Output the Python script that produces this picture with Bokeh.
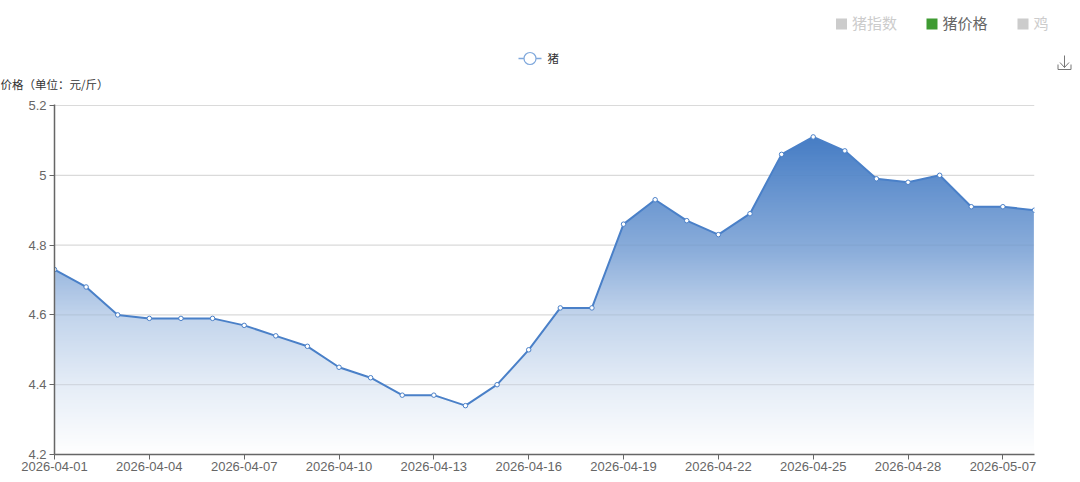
import numpy as np
from bokeh.embed import file_html
from bokeh.resources import INLINE
from bokeh.plotting import figure
from bokeh.layouts import column
from bokeh.core.properties import value
from bokeh.models import Range1d, FixedTicker

dates = ["2026-04-01","2026-04-02","2026-04-03","2026-04-04","2026-04-05","2026-04-06","2026-04-07","2026-04-08",
         "2026-04-09","2026-04-10","2026-04-11","2026-04-12","2026-04-13","2026-04-14","2026-04-15","2026-04-16",
         "2026-04-17","2026-04-18","2026-04-19","2026-04-20","2026-04-21","2026-04-22","2026-04-23","2026-04-24",
         "2026-04-25","2026-04-26","2026-04-27","2026-04-28","2026-04-29","2026-04-30","2026-05-07","2026-05-08"]
prices = [4.73,4.68,4.60,4.59,4.59,4.59,4.57,4.54,4.51,4.45,4.42,4.37,4.37,4.34,4.40,4.50,
          4.62,4.62,4.86,4.93,4.87,4.83,4.89,5.06,5.11,5.07,4.99,4.98,5.00,4.91,4.91,4.90]
y_ticks = [4.2,4.4,4.6,4.8,5.0,5.2]
y_labels = ["4.2","4.4","4.6","4.8","5","5.2"]
x_tick_step = 3
series_name = "猪"
y_title = "价格（单位：元/斤）"
top_legend = [("猪指数", "#cccccc", "#cccccc"), ("猪价格", "#3f9b32", "#666666"), ("鸡", "#cccccc", "#cccccc")]

LINE = "#4a80c8"
TOP = np.array([70, 125, 197])
STOP_T = [0, .36, .56, .78, 1]        # distance from the top of the gradient
STOP_A = [1, .62, .33, .14, 0]        # strength of the blue there
FONT = "Liberation Sans"
CJK = "Noto Sans CJK SC"
W, H = 1080, 482
HEAD = 95
L, R, T, B = 54, 46, 104 - HEAD, 28
PAD = 1.0 / 349                       # one pixel of headroom so the top grid line is not halved

idx = list(range(len(dates)))
ymin, ymax = y_ticks[0], y_ticks[-1]
top = max(prices)

def strength(v):
    return float(np.interp((top - v) / (top - ymin), STOP_T, STOP_A))

# ---------- header strip: y-axis title, legends, download icon ----------
h = figure(width=W, height=HEAD, output_backend="svg", toolbar_location=None,
           x_range=Range1d(0, W), y_range=Range1d(HEAD, 0),
           min_border=0, min_border_left=0, min_border_right=0, min_border_top=0, min_border_bottom=0)
h.frame_align = False
h.outline_line_color = None
h.axis.visible = False
h.grid.visible = False

def label(x, y, text, color, size):
    h.text([x], [y], text=[text], text_color=color, text_font=value(CJK), text_font_size=size,
           text_baseline="middle", text_align="left")

label(0, 83, y_title, "#333333", "11.5px")

h.line([518, 541], [58, 58], line_color="#7fa8dc", line_width=1.5)
h.scatter([529.5], [58], size=12, marker="circle", fill_color="white", line_color="#7fa8dc", line_width=1.2)
label(547, 57, series_name, "#333333", "11.5px")

for (name, c, tc), sx in zip(top_legend, [835.5, 926, 1017]):
    h.quad(left=[sx], right=[sx+11], top=[18], bottom=[29], fill_color=c, line_color=None)
    label(sx+16, 22, name, tc, "15px")

h.line([1057.5, 1057.5, 1070.5, 1070.5], [64, 69, 69, 64], line_color="#777777", line_width=1)
h.line([1064, 1064], [55, 67], line_color="#777777", line_width=1)
h.line([1059.5, 1064, 1068.5], [62, 67, 62], line_color="#777777", line_width=1)

# ---------- chart ----------
p = figure(width=W, height=H-HEAD, output_backend="svg", toolbar_location=None,
           x_range=Range1d(0, len(dates)-1), y_range=Range1d(ymin, ymax + PAD),
           min_border_left=L, min_border_right=R, min_border_top=T, min_border_bottom=B)
p.frame_align = False
p.outline_line_color = None
p.background_fill_color = "white"
p.xgrid.visible = False
p.ygrid.visible = False

# vertical gradient from the data's top down to the axis, then masked above the line
n = 256
vals = np.linspace(ymin, top, n)
frac = np.array([strength(v) for v in vals])[:, None]
rgb = 255 + (TOP - 255) * frac
img = np.zeros((n, 1), dtype=np.uint32)
view = img.view(dtype=np.uint8).reshape((n, 1, 4))
view[..., :3] = rgb[:, None, :].astype(np.uint8)
view[..., 3] = 255
p.image_rgba(image=[img], x=0.02, y=ymin, dw=len(dates)-1-0.04, dh=top-ymin, level="image")
mask_x = [-1] + idx + [len(idx)]
mask_y = [prices[0]] + prices + [prices[-1]]
p.varea(x=mask_x, y1=mask_y, y2=[ymax + PAD]*len(mask_x), fill_color="white", level="image")

# grid: plain outside the area, fading out under the gradient inside it
dense_x = np.linspace(0, len(dates)-1, 1961)
dense_y = np.interp(dense_x, idx, prices)
for t in y_ticks[1:]:
    p.line(dense_x, np.where(dense_y < t, t, np.nan), line_color="#dadada", line_width=1.2, level="underlay")
    p.line(dense_x, np.where(dense_y >= t, t, np.nan), line_color="black",
           line_alpha=0.10 * (1 - strength(t)), line_width=1.2, level="underlay")

p.line(idx, prices, line_color=LINE, line_width=2)
p.scatter(idx, prices, size=4.5, marker="circle", fill_color="white", line_color=LINE, line_width=1)

for ax in (p.xaxis[0], p.yaxis[0]):
    ax.axis_line_color = "#666666"
    ax.axis_line_width = 1.5
    ax.major_tick_line_color = "#666666"
    ax.major_tick_in = 0
    ax.major_tick_out = 5
    ax.minor_tick_line_color = None
    ax.major_label_text_color = "#666666"
    ax.major_label_text_font = FONT
    ax.major_label_text_font_size = "13px"
    ax.major_label_standoff = 3
p.xaxis[0].major_label_standoff = 2

xt = idx[::x_tick_step]
p.xaxis[0].ticker = FixedTicker(ticks=xt)
p.xaxis[0].major_label_overrides = {i: dates[i] for i in xt}
p.yaxis[0].ticker = FixedTicker(ticks=y_ticks)
p.yaxis[0].major_label_overrides = {t: s for t, s in zip(y_ticks, y_labels)}

page = column(h, p, spacing=0)
open("out.html", "w").write(file_html(page, INLINE))
